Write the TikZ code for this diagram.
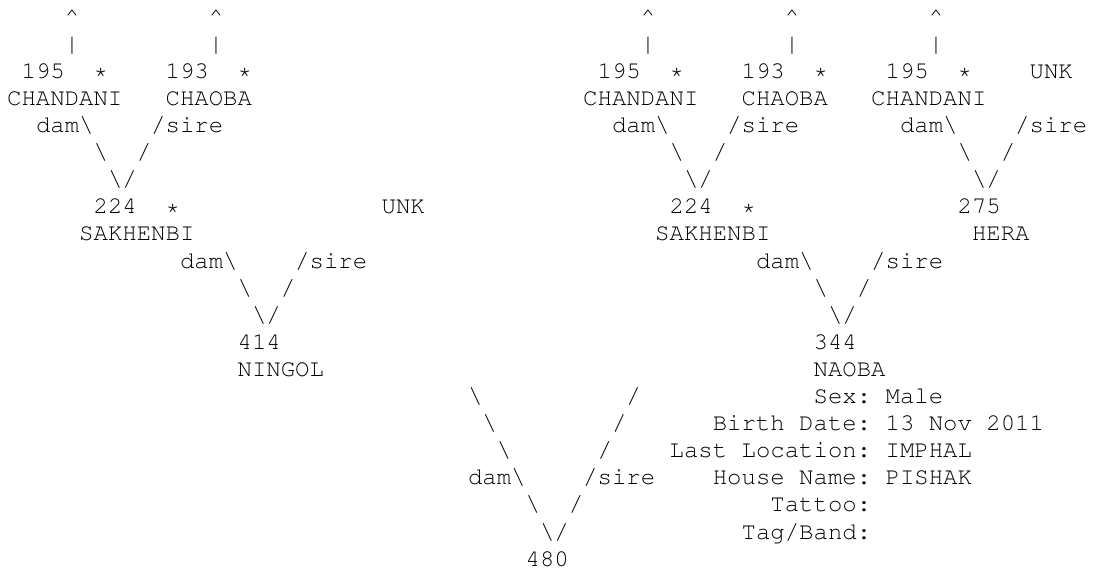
\documentclass[tikz,border=0pt]{standalone}
\usepackage[T1]{fontenc}
\newcommand\bs{\textbackslash}
\newcommand\PutTxt[4]{\node[asc] (#1) at ({7+14.4*#2},{-24.1-27.1*(#3-1)}) {#4};}
\begin{document}
\frenchspacing
\begin{tikzpicture}[x=1pt,y=1pt,
  asc/.style={font=\fontfamily{pcr}\fontsize{24}{27.1}\selectfont\frenchspacing, inner sep=0pt, anchor=base west, text=black}]
\useasboundingbox (0,0) rectangle (1093,-571);
% line 1
\PutTxt{ca}{4}{1}{\textasciicircum}
\PutTxt{cb}{14}{1}{\textasciicircum}
\PutTxt{cc}{44}{1}{\textasciicircum}
\PutTxt{cd}{54}{1}{\textasciicircum}
\PutTxt{ce}{64}{1}{\textasciicircum}
% line 2
\PutTxt{pa}{4}{2}{|}
\PutTxt{pb}{14}{2}{|}
\PutTxt{pc}{44}{2}{|}
\PutTxt{pd}{54}{2}{|}
\PutTxt{pe}{64}{2}{|}
% line 3
\PutTxt{na1}{1}{3}{195}
\PutTxt{sa1}{6}{3}{*}
\PutTxt{na2}{11}{3}{193}
\PutTxt{sa2}{16}{3}{*}
\PutTxt{na3}{41}{3}{195}
\PutTxt{sa3}{46}{3}{*}
\PutTxt{na4}{51}{3}{193}
\PutTxt{sa4}{56}{3}{*}
\PutTxt{na5}{61}{3}{195}
\PutTxt{sa5}{66}{3}{*}
\PutTxt{na6}{71}{3}{UNK}
% line 4
\PutTxt{nm1}{0}{4}{CHANDANI}
\PutTxt{nm2}{11}{4}{CHAOBA}
\PutTxt{nm3}{40}{4}{CHANDANI}
\PutTxt{nm4}{51}{4}{CHAOBA}
\PutTxt{nm5}{60}{4}{CHANDANI}
% line 5
\PutTxt{da1}{2}{5}{dam\bs}
\PutTxt{si1}{10}{5}{/sire}
\PutTxt{da2}{42}{5}{dam\bs}
\PutTxt{si2}{50}{5}{/sire}
\PutTxt{da3}{62}{5}{dam\bs}
\PutTxt{si3}{70}{5}{/sire}
% line 6
\PutTxt{ba1}{6}{6}{\bs}
\PutTxt{fa1}{9}{6}{/}
\PutTxt{ba2}{46}{6}{\bs}
\PutTxt{fa2}{49}{6}{/}
\PutTxt{ba3}{66}{6}{\bs}
\PutTxt{fa3}{69}{6}{/}
% line 7
\PutTxt{va1}{7}{7}{\bs/}
\PutTxt{va2}{47}{7}{\bs/}
\PutTxt{va3}{67}{7}{\bs/}
% line 8
\PutTxt{nb1}{6}{8}{224}
\PutTxt{sb1}{11}{8}{*}
\PutTxt{nb2}{26}{8}{UNK}
\PutTxt{nb3}{46}{8}{224}
\PutTxt{sb3}{51}{8}{*}
\PutTxt{nb4}{66}{8}{275}
% line 9
\PutTxt{mb1}{5}{9}{SAKHENBI}
\PutTxt{mb3}{45}{9}{SAKHENBI}
\PutTxt{mb4}{67}{9}{HERA}
% line 10
\PutTxt{db1}{12}{10}{dam\bs}
\PutTxt{sib1}{20}{10}{/sire}
\PutTxt{db2}{52}{10}{dam\bs}
\PutTxt{sib2}{60}{10}{/sire}
% line 11
\PutTxt{bb1}{16}{11}{\bs}
\PutTxt{fb1}{19}{11}{/}
\PutTxt{bb2}{56}{11}{\bs}
\PutTxt{fb2}{59}{11}{/}
% line 12
\PutTxt{vb1}{17}{12}{\bs/}
\PutTxt{vb2}{57}{12}{\bs/}
% line 13
\PutTxt{nc1}{16}{13}{414}
\PutTxt{nc2}{56}{13}{344}
% line 14
\PutTxt{mc1}{16}{14}{NINGOL}
\PutTxt{mc2}{56}{14}{NAOBA}
% line 15
\PutTxt{bd1}{32}{15}{\bs}
\PutTxt{fd1}{43}{15}{/}
\PutTxt{in1}{56}{15}{Sex: Male}
% line 16
\PutTxt{bd2}{33}{16}{\bs}
\PutTxt{fd2}{42}{16}{/}
\PutTxt{in2}{49}{16}{Birth Date: 13 Nov 2011}
% line 17
\PutTxt{bd3}{34}{17}{\bs}
\PutTxt{fd3}{41}{17}{/}
\PutTxt{in3}{46}{17}{Last Location: IMPHAL}
% line 18
\PutTxt{dd}{32}{18}{dam\bs}
\PutTxt{sd}{40}{18}{/sire}
\PutTxt{in4}{49}{18}{House Name: PISHAK}
% line 19
\PutTxt{bd5}{36}{19}{\bs}
\PutTxt{fd5}{39}{19}{/}
\PutTxt{in5}{53}{19}{Tattoo:}
% line 20
\PutTxt{vd}{37}{20}{\bs/}
\PutTxt{in6}{51}{20}{Tag/Band:}
% line 21
\PutTxt{root}{36}{21}{480}
\end{tikzpicture}
\end{document}
